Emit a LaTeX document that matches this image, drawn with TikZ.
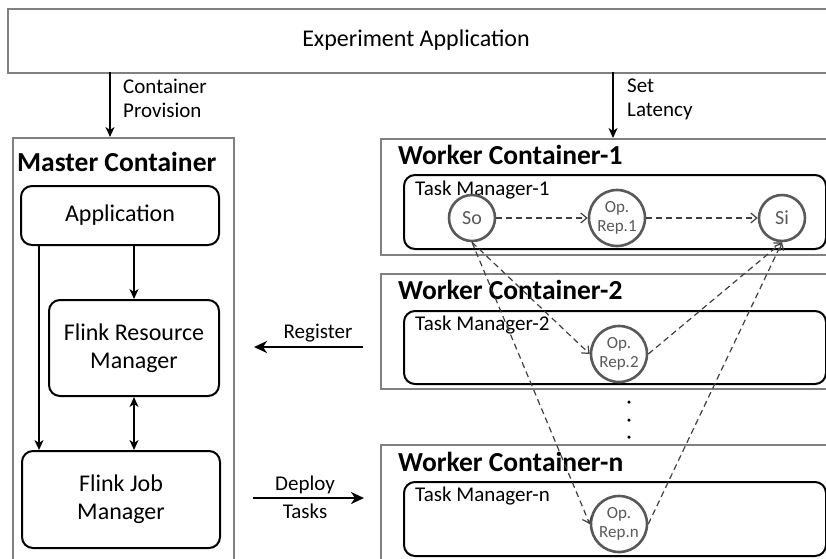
\documentclass[tikz,border=0pt]{standalone}
\usepackage{fontspec}
\setmainfont{Carlito}
\usepackage{tikz}
\usetikzlibrary{arrows.meta}

\definecolor{boxgray}{RGB}{128,128,128}
\definecolor{opgray}{RGB}{89,89,89}
\definecolor{dashgray}{RGB}{64,64,64}

\begin{document}
\begin{tikzpicture}[x=1pt, y=-1pt,
    every node/.style={font=\fontsize{24}{28}\selectfont},
    outerbox/.style={draw=boxgray, line width=1.6pt, inner sep=0pt, anchor=north west},
    innerbox/.style={draw, line width=2pt, rounded corners=11pt, inner sep=0pt, align=center, anchor=north west},
    boxtitle/.style={font=\bfseries\fontsize{27.5}{30}\selectfont, anchor=west, inner sep=0pt},
    tmlabel/.style={font=\fontsize{21}{24}\selectfont, anchor=west, inner sep=0pt},
    sidelabel/.style={font=\fontsize{21}{24}\selectfont, align=left, inner sep=0pt},
    replica/.style={circle, draw=opgray, line width=2.6pt, text=opgray, inner sep=0pt,
        align=center, font=\fontsize{17}{18.5}\selectfont},
    endpoint/.style={replica, minimum size=46pt, font=\fontsize{20}{22}\selectfont},
    flow/.style={-{Stealth[length=10pt,width=9pt,inset=3pt]}, line width=1.6pt},
    bigflow/.style={-{Stealth[length=13pt,width=12pt,inset=4pt]}, line width=2.6pt},
    dataflow/.style={-{Straight Barb[length=6pt,width=10pt]}, draw=dashgray, line width=1.2pt,
        dash pattern=on 6pt off 4pt},
  ]
  \useasboundingbox (0,0) rectangle (826,558);

  % top application
  \node[outerbox, minimum width=824pt, minimum height=64pt] (expapp) at (7,8) {};
  \node (expapptext) at (416,40) {Experiment Application};

  % master side
  \node[outerbox, minimum width=221pt, minimum height=430pt] (master) at (12,137) {};
  \node[boxtitle] (mastertitle) at (17,162) {Master Container};
  \node[innerbox, minimum width=198pt, minimum height=59pt] (app) at (20,185) {Application};
  \node[innerbox, minimum width=170pt, minimum height=96pt] (frm) at (48,299) {Flink Resource\\Manager};
  \node[innerbox, minimum width=198pt, minimum height=97pt] (fjm) at (21,450) {Flink Job\\Manager};

  \draw[flow] ([xshift=19pt]app.south west) -- ([xshift=18pt]fjm.north west);
  \draw[flow] (app.south -| frm.north) -- (frm.north);
  \draw[{Stealth[length=10pt,width=9pt,inset=3pt]}-{Stealth[length=10pt,width=9pt,inset=3pt]}, line width=1.6pt]
    (frm.south) -- (frm.south |- fjm.north);

  % workers
  \node[outerbox, minimum width=460pt, minimum height=116pt] (worker1) at (380,138) {};
  \node[boxtitle] (worker1title) at (398,155) {Worker Container-1};
  \node[innerbox, minimum width=422pt, minimum height=74pt] (tm1) at (403,174) {};
  \node[tmlabel] (tm1label) at (415,190) {Task Manager-1};

  \node[outerbox, minimum width=460pt, minimum height=115pt] (worker2) at (380,273) {};
  \node[boxtitle] (worker2title) at (398,290) {Worker Container-2};
  \node[innerbox, minimum width=422pt, minimum height=73pt] (tm2) at (403,310) {};
  \node[tmlabel] (tm2label) at (415,325) {Task Manager-2};

  \node[outerbox, minimum width=460pt, minimum height=130pt] (workern) at (380,444) {};
  \node[boxtitle] (workerntitle) at (398,462) {Worker Container-n};
  \node[innerbox, minimum width=422pt, minimum height=74pt] (tmn) at (403,481) {};
  \node[tmlabel] (tmnlabel) at (415,496) {Task Manager-n};

  \foreach \y [count=\i] in {402,420,437}
    \node[circle, fill, inner sep=0pt, minimum size=3.5pt] (dot\i) at (629,\y) {};

  % operators
  \node[endpoint] (so) at (472,218) {So};
  \node[replica, minimum size=56pt] (rep1) at (617,218) {Op.\\Rep.1};
  \node[endpoint] (si) at (782,218) {Si};
  \node[replica, minimum size=56pt] (rep2) at (619,354) {Op.\\Rep.2};
  \node[replica, minimum size=56pt] (repn) at (619,524) {Op.\\Rep.n};

  \draw[dataflow] (so) -- (rep1);
  \draw[dataflow] (rep1) -- (si);
  \draw[dataflow] (so.south) -- (rep2.west);
  \draw[dataflow] (so.south) -- (repn.west);
  \draw[dataflow] (rep2.east) -- (si.south);
  \draw[dataflow] (repn.east) -- (si.south);

  % arrows between the parts
  \coordinate (provtop) at (110,72);
  \draw[flow] (provtop) -- (provtop |- master.north);
  \node[sidelabel, anchor=north west] (provlabel) at (123,79) {Container\\Provision};

  \coordinate (lattop) at (613,72);
  \draw[flow] (lattop) -- (lattop |- worker1.north);
  \node[sidelabel, anchor=north west] (latlabel) at (627,79) {Set\\Latency};

  \coordinate (regstart) at (363,347);
  \coordinate (regend) at (254,347);
  \draw[bigflow] (regstart) -- (regend);
  \node[sidelabel] (reglabel) at (318,333) {Register};

  \coordinate (depstart) at (253,498);
  \coordinate (depend) at (364,498);
  \draw[bigflow] (depstart) -- (depend);
  \node[sidelabel] (deplabel) at (305,485) {Deploy};
  \node[sidelabel] (tasklabel) at (305,511) {Tasks};
\end{tikzpicture}
\end{document}
